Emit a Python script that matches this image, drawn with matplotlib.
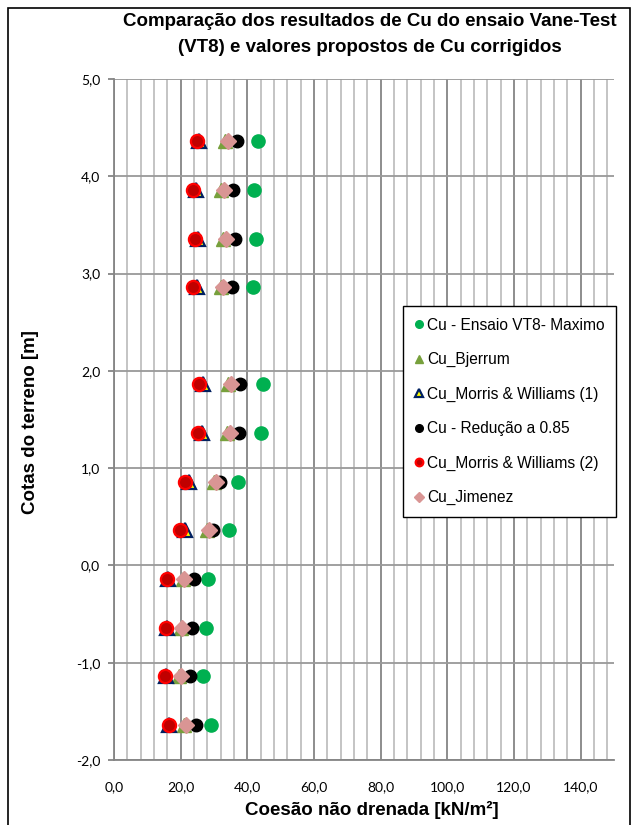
import matplotlib.pyplot as plt
from matplotlib.patches import Rectangle
from matplotlib.ticker import FuncFormatter, MultipleLocator

# cotas (m)
cotas = [4.36, 3.86, 3.36, 2.86, 1.86, 1.36, 0.86, 0.36, -0.14, -0.64, -1.14, -1.64]

# Cu values (kN/m2)
cu_ensaio = [43.3, 42.0, 42.6, 41.8, 44.6, 44.1, 37.3, 34.6, 28.1, 27.5, 26.8, 29.0]
cu_bjerrum = [33.2, 32.2, 32.8, 32.0, 34.2, 34.0, 30.0, 27.9, 20.6, 20.0, 19.6, 21.1]
cu_mw1 = [25.6, 24.6, 25.3, 25.0, 26.6, 26.3, 22.6, 21.3, 16.1, 15.8, 15.6, 16.6]
cu_reducao = [36.8, 35.7, 36.2, 35.5, 37.9, 37.5, 31.9, 29.6, 24.0, 23.4, 22.9, 24.6]
cu_mw2 = [24.8, 23.8, 24.3, 23.8, 25.5, 25.3, 21.3, 19.8, 15.8, 15.5, 15.3, 16.5]
cu_jimenez = [34.1, 33.0, 33.6, 32.8, 35.0, 34.8, 30.6, 28.5, 21.0, 20.5, 20.1, 21.6]

labels = ["Cu - Ensaio VT8- Maximo", "Cu_Bjerrum", "Cu_Morris & Williams (1)",
          "Cu - Redução a 0.85", "Cu_Morris & Williams (2)", "Cu_Jimenez"]

W, H = 638, 825
fig = plt.figure(figsize=(W / 100, H / 100), dpi=100)
ax = fig.add_axes([114 / W, 1 - 760 / H, 500 / W, 681 / H])

# outer chart frame
fig.patches.append(Rectangle((8 / W, -0.05), 622 / W, 1.05 - 8 / H, transform=fig.transFigure,
                             fill=False, edgecolor="black", linewidth=1.2))

series = [
    (cu_ensaio, dict(marker="o", ms=9.5, mfc="#00b050", mec="#00b050")),
    (cu_bjerrum, dict(marker="^", ms=9.5, mfc="#77a03c", mec="#77a03c")),
    (cu_mw1, dict(marker="^", ms=9.5, mfc="#ffff00", mec="#002060", mew=1.6)),
    (cu_reducao, dict(marker="o", ms=9.0, mfc="black", mec="black")),
    (cu_mw2, dict(marker="o", ms=9.5, mfc="#c00000", mec="#ff0000", mew=1.6)),
    (cu_jimenez, dict(marker="D", ms=8.0, mfc="#d99594", mec="#d99594")),
]
handles = []
for (vals, style), lab in zip(series, labels):
    h, = ax.plot(vals, cotas, linestyle="none", label=lab, zorder=3, **style)
    handles.append(h)

ax.set_xlim(0, 150)
ax.set_ylim(-2, 5)
ax.xaxis.set_major_locator(MultipleLocator(20))
ax.xaxis.set_minor_locator(MultipleLocator(4))
ax.yaxis.set_major_locator(MultipleLocator(1))
fmt = FuncFormatter(lambda v, p: f"{v:.1f}".replace(".", ","))
ax.xaxis.set_major_formatter(fmt)
ax.yaxis.set_major_formatter(fmt)

ax.grid(which="minor", axis="x", color="#bfbfbf", linewidth=1.3)
ax.grid(which="major", axis="x", color="#858585", linewidth=1.3)
ax.grid(which="major", axis="y", color="#999999", linewidth=1.3)
ax.set_axisbelow(True)

for s in ["top", "right"]:
    ax.spines[s].set_visible(False)
for s in ["left", "bottom"]:
    ax.spines[s].set_color("#858585")
    ax.spines[s].set_linewidth(1.3)

ax.tick_params(axis="x", which="both", length=0, pad=15, labelsize=10, labelcolor="black")
ax.tick_params(axis="y", which="major", length=4, width=1.3, color="#858585", pad=6,
               labelsize=10, labelcolor="black")
for t in ax.get_xticklabels() + ax.get_yticklabels():
    t.set_family("Lato")

tfont = dict(fontsize=13.5, fontweight="bold", family="Liberation Sans")
fig.text(370 / W, 1 - 22 / H, "Comparação dos resultados de Cu do ensaio Vane-Test",
         ha="center", va="center", **tfont)
fig.text(370 / W, 1 - 47 / H, "(VT8) e valores propostos de Cu corrigidos",
         ha="center", va="center", **tfont)
fig.text(372 / W, 1 - 810 / H, "Coesão não drenada [kN/m²]",
         ha="center", va="center", **tfont)
fig.text(31 / W, 1 - 422 / H, "Cotas do terreno [m]", rotation=90,
         ha="center", va="center", **tfont)

leg = ax.legend(handles=handles, loc="upper left", bbox_to_anchor=(403 / W, 1 - 306 / H),
                bbox_transform=fig.transFigure, frameon=True, fancybox=False,
                prop={"family": "Liberation Sans", "size": 11.2}, labelspacing=1.25,
                handlelength=0.55, handletextpad=0.25, borderpad=0.75, borderaxespad=0)
leg.get_frame().set_edgecolor("black")
leg.get_frame().set_linewidth(1.0)
leg.get_frame().set_alpha(1)
for h in leg.legend_handles:
    h.set_markersize(5.5)

fig.savefig("out.png", dpi=100)
